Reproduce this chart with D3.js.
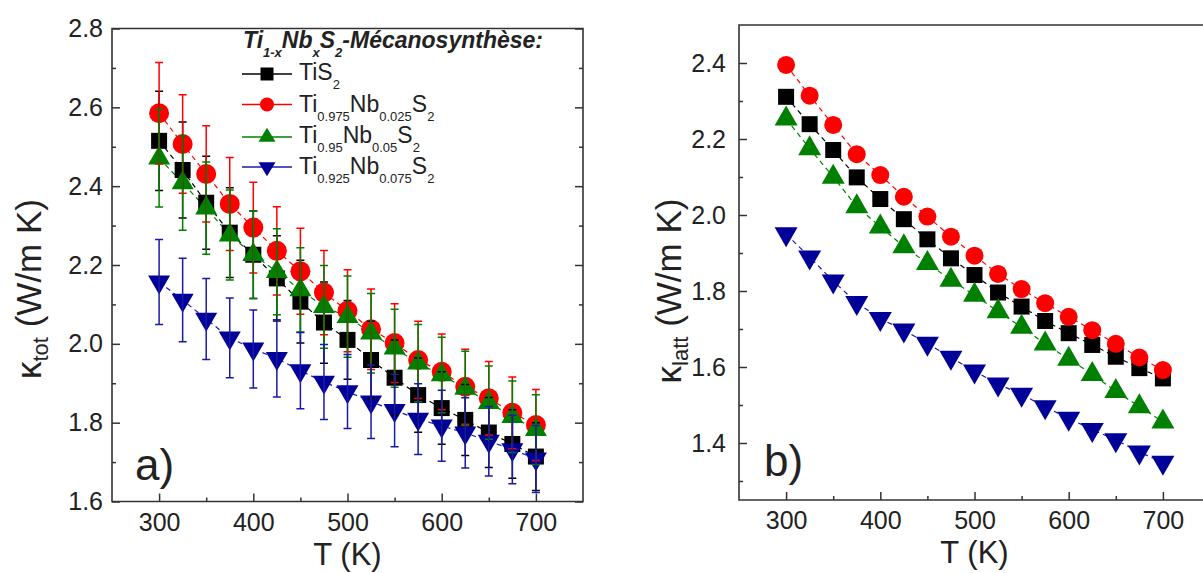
<!DOCTYPE html>
<html><head><meta charset="utf-8">
<script src="https://cdn.jsdelivr.net/npm/d3@7"></script>
<style>
body{margin:0;background:#fff}
svg text{font-family:"Liberation Sans",Arial,sans-serif;fill:#222}
</style>
</head><body>
<svg id="chart" width="1203" height="573"></svg>
<script>
// ---------- data ----------
const temps = [300,325,350,375,400,425,450,475,500,525,550,575,600,625,650,675,700];
const seriesNames = ["TiS2","Ti0.975Nb0.025S2","Ti0.95Nb0.05S2","Ti0.925Nb0.075S2"];
const seriesColors = ["#000000","#ff0000","#008000","#000099"];
const seriesLineColors = ["#000000","#ff0000","#008000","#1a1aaa"];
const seriesShapes = ["square","circle","up","down"];

// panel a) total thermal conductivity (W/m K)
const ktotTiS2   = [2.515,2.441,2.358,2.282,2.226,2.166,2.107,2.054,2.010,1.959,1.914,1.870,1.837,1.807,1.775,1.746,1.714];
const ktotNb025  = [2.585,2.507,2.431,2.355,2.295,2.236,2.184,2.130,2.084,2.037,2.002,1.959,1.929,1.891,1.862,1.825,1.794];
const ktotNb05   = [2.471,2.408,2.344,2.276,2.226,2.183,2.137,2.094,2.069,2.027,1.989,1.951,1.921,1.887,1.851,1.815,1.782];
const ktotNb075  = [2.157,2.111,2.063,2.015,1.987,1.963,1.932,1.903,1.879,1.853,1.831,1.809,1.792,1.774,1.753,1.732,1.708];
// error bars of panel a)
const errTiS2    = [0.126,0.122,0.118,0.114,0.111,0.108,0.105,0.103,0.100,0.098,0.096,0.094,0.092,0.090,0.089,0.087,0.086];
const errNb025   = [0.129,0.125,0.122,0.118,0.115,0.112,0.109,0.107,0.104,0.102,0.100,0.098,0.096,0.095,0.093,0.091,0.090];
const errNb05    = [0.124,0.120,0.117,0.114,0.111,0.109,0.107,0.105,0.103,0.101,0.099,0.098,0.096,0.094,0.093,0.091,0.089];
const errNb075   = [0.108,0.106,0.103,0.101,0.099,0.098,0.097,0.095,0.094,0.093,0.092,0.090,0.090,0.089,0.088,0.087,0.085];

// panel b) lattice thermal conductivity (W/m K)
const klattTiS2  = [2.311,2.239,2.171,2.099,2.042,1.989,1.936,1.886,1.842,1.796,1.759,1.721,1.689,1.658,1.627,1.597,1.570];
const klattNb025 = [2.395,2.314,2.237,2.160,2.105,2.048,1.996,1.943,1.893,1.845,1.805,1.768,1.732,1.697,1.661,1.625,1.592];
const klattNb05  = [2.253,2.175,2.100,2.022,1.969,1.917,1.873,1.829,1.789,1.746,1.705,1.661,1.621,1.581,1.536,1.496,1.456];
const klattNb075 = [1.950,1.889,1.826,1.769,1.727,1.697,1.662,1.625,1.589,1.555,1.528,1.495,1.465,1.435,1.408,1.376,1.349];

const xTicks = [300,400,500,600,700];
const xMinor = [350,450,550,650];
const yTicksA = [1.6,1.8,2.0,2.2,2.4,2.6,2.8];
const yMinorA = [1.7,1.9,2.1,2.3,2.5,2.7];
const yTicksB = [1.4,1.6,1.8,2.0,2.2,2.4];
const yMinorB = [1.3,1.5,1.7,1.9,2.1,2.3];

// ---------- helpers ----------
const svg = d3.select("#chart");
svg.append("rect").attr("width",1203).attr("height",573).attr("fill","#fff");

function shapePath(shape, s){
  if(shape==="square"){ const h=s.sq/2; return `M${-h},${-h}H${h}V${h}H${-h}Z`; }
  if(shape==="circle"){ const r=s.r; return `M${-r},0A${r},${r} 0 1,0 ${r},0A${r},${r} 0 1,0 ${-r},0Z`; }
  if(shape==="up"){ const w=s.tw, h=s.th; return `M0,${-2*h/3}L${w/2},${h/3}L${-w/2},${h/3}Z`; }
  const w=s.tw, h=s.th; return `M0,${2*h/3}L${w/2},${-h/3}L${-w/2},${-h/3}Z`;
}

function drawAxes(g, x, y, yTicks, yMinor, opts){
  const [x0,x1] = x.range(), [yb,yt] = y.range();
  const axisStroke = "#333";
  const bx = g.append("g").attr("transform",`translate(0,${yb})`)
    .call(d3.axisBottom(x).tickValues(xTicks).tickSizeInner(-8).tickSizeOuter(0).tickPadding(opts.xPad).tickFormat(d3.format("d")));
  bx.select(".domain").remove();
  g.append("g").attr("transform",`translate(0,${yb})`)
    .call(d3.axisBottom(x).tickValues(xMinor).tickSizeInner(-4).tickSizeOuter(0).tickFormat(""))
    .select(".domain").remove();
  const ly = g.append("g").attr("transform",`translate(${x0},0)`)
    .call(d3.axisLeft(y).tickValues(yTicks).tickSizeInner(-8).tickSizeOuter(0).tickPadding(opts.yPad).tickFormat(d3.format(".1f")));
  ly.select(".domain").remove();
  g.append("g").attr("transform",`translate(${x0},0)`)
    .call(d3.axisLeft(y).tickValues(yMinor).tickSizeInner(-4).tickSizeOuter(0).tickFormat(""))
    .select(".domain").remove();
  if(opts.rightTicks){
    g.append("g").attr("transform",`translate(${x1},0)`)
      .call(d3.axisRight(y).tickValues(yTicks).tickSizeInner(-8).tickSizeOuter(0).tickFormat(""))
      .select(".domain").remove();
    g.append("g").attr("transform",`translate(${x1},0)`)
      .call(d3.axisRight(y).tickValues(yMinor).tickSizeInner(-4).tickSizeOuter(0).tickFormat(""))
      .select(".domain").remove();
  }
  g.selectAll(".tick line").attr("stroke",axisStroke).attr("stroke-width",1.5);
  g.selectAll(".tick text").attr("font-size",25).attr("fill","#222")
    .style("font-family","'Liberation Sans',Arial,sans-serif");
  g.append("path")
    .attr("d",`M${x0},${yt}V${yb}H${x1}V${yt}Z`)
    .attr("fill","none").attr("stroke",axisStroke).attr("stroke-width",1.6);
}

function drawSeries(g, x, y, valueSets, errSets, sizes){
  const line = d3.line().x((d,i)=>x(temps[i])).y(d=>y(d));
  valueSets.forEach((vals,k)=>{
    g.append("path").attr("d",line(vals)).attr("fill","none")
      .attr("stroke",seriesLineColors[k]).attr("stroke-width",1.2).attr("stroke-dasharray","5,4");
  });
  valueSets.forEach((vals,k)=>{
    g.selectAll(null).data(vals).enter().append("path")
      .attr("transform",(d,i)=>`translate(${x(temps[i])},${y(d)})`)
      .attr("d",shapePath(seriesShapes[k],sizes)).attr("fill",seriesColors[k]);
  });
  if(errSets){
    errSets.forEach((errs,k)=>{
      const vals = valueSets[k];
      const eg = g.append("g").attr("stroke",seriesLineColors[k]).attr("stroke-width",1.5).attr("fill","none");
      vals.forEach((v,i)=>{
        const cx = x(temps[i]), ya = y(v+errs[i]), yb = y(v-errs[i]);
        eg.append("path").attr("d",`M${cx},${ya}V${yb}M${cx-4},${ya}H${cx+4}M${cx-4},${yb}H${cx+4}`);
      });
    });
  }
}

// ---------- panel a ----------
const xA = d3.scaleLinear().domain([250,750]).range([112,583]);
const yA = d3.scaleLinear().domain([1.6,2.8]).range([501.5,28.5]);
const gA = svg.append("g");
drawSeries(gA, xA, yA, [ktotTiS2,ktotNb025,ktotNb05,ktotNb075], [errTiS2,errNb025,errNb05,errNb075],
  {sq:16, r:10, tw:22, th:19});
drawAxes(gA, xA, yA, yTicksA, yMinorA, {xPad:12, yPad:9, rightTicks:true});

// ---------- panel b ----------
const xB = d3.scaleLinear().domain([250,750]).range([739,1210]);
const yB = d3.scaleLinear().domain([1.25,2.5]).range([500,25]);
const gB = svg.append("g");
drawSeries(gB, xB, yB, [klattTiS2,klattNb025,klattNb05,klattNb075], null,
  {sq:16, r:9, tw:23, th:20});
drawAxes(gB, xB, yB, yTicksB, yMinorB, {xPad:11, yPad:13, rightTicks:false});

// ---------- axis titles ----------
function xTitle(cx, base){
  svg.append("text").attr("x",cx).attr("y",base).attr("text-anchor","middle")
    .attr("font-size",31).text("T (K)");
}
xTitle(347.5,565);
xTitle(974.5,563);

function yTitle(bx, cy, sub){
  const t = svg.append("text").attr("transform",`translate(${bx},${cy}) rotate(-90)`)
    .attr("text-anchor","middle").attr("font-size",35);
  t.append("tspan").text("κ");
  t.append("tspan").attr("font-size",22).attr("dy",7).text(sub);
  t.append("tspan").attr("dy",-7).text(" (W/m K)");
}
yTitle(41,289,"tot");
yTitle(681,291,"latt");

svg.append("text").attr("x",135).attr("y",480).attr("font-size",44).text("a)");
svg.append("text").attr("x",764).attr("y",476).attr("font-size",44).text("b)");

// ---------- legend ----------
const title = svg.append("text").attr("x",243).attr("y",48)
  .attr("font-size",23).attr("font-weight","bold").attr("font-style","italic").attr("fill","#111");
[["Ti",0],["1-x",1],["Nb",0],["x",1],["S",0],["2",1],["-Mécanosynthèse:",0]].forEach(([s,sub],i,arr)=>{
  const prevSub = i>0 ? arr[i-1][1] : 0;
  const dy = (sub?9:0) - (prevSub?9:0);
  title.append("tspan").attr("dy",dy).attr("font-size",sub?13:23).text(s);
});

const legendParts = [
  [["Ti",0],["S",0],["2",1]],
  [["Ti",0],["0.975",1],["Nb",0],["0.025",1],["S",0],["2",1]],
  [["Ti",0],["0.95",1],["Nb",0],["0.05",1],["S",0],["2",1]],
  [["Ti",0],["0.925",1],["Nb",0],["0.075",1],["S",0],["2",1]]
];
const legendRowsY = [74,104.5,137,167];
const legendBase = [80,111.5,143,174];
seriesNames.forEach((name,k)=>{
  const cy = legendRowsY[k];
  svg.append("path").attr("d",`M242,${cy}H292`).attr("stroke",seriesLineColors[k]).attr("stroke-width",1.5);
  svg.append("path").attr("transform",`translate(267,${cy})`)
    .attr("d",shapePath(seriesShapes[k],{sq:13,r:7,tw:17,th:14})).attr("fill",seriesColors[k]);
  const t = svg.append("text").attr("x",299).attr("y",legendBase[k]).attr("font-size",23).attr("fill","#222");
  legendParts[k].forEach(([s,sub],i,arr)=>{
    const prevSub = i>0 ? arr[i-1][1] : 0;
    const dy = (sub?9:0) - (prevSub?9:0);
    t.append("tspan").attr("dy",dy).attr("font-size",sub?13:23).text(s);
  });
});
</script>
</body></html>
